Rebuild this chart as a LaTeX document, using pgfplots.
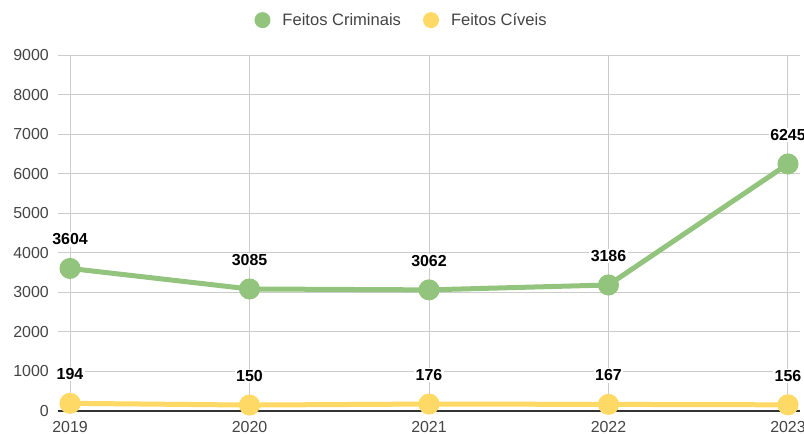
\documentclass[border=0pt]{standalone}
\usepackage{fontspec}
\setmainfont{Liberation Sans}
\usepackage{pgfplots}
\pgfplotsset{compat=1.18}
\definecolor{crim}{HTML}{93C47D}
\definecolor{civ}{HTML}{FFD966}
\definecolor{gridc}{HTML}{CCCCCC}
\definecolor{labc}{HTML}{444444}
\begin{document}
\begin{tikzpicture}
\useasboundingbox (-58bp,-23bp) rectangle (746bp,411bp);
\begin{axis}[
    at={(0,0)}, anchor=south west,
    scale only axis, width=742bp, height=356bp,
    xmin=2018.933, xmax=2023.067,
    ymin=0, ymax=9000,
    xtick={2019,2020,2021,2022,2023},
    xticklabels={2019,2020,2021,2022,2023},
    ytick={0,1000,...,9000},
    yticklabels={0,1000,2000,3000,4000,5000,6000,7000,8000,9000},
    extra y ticks={0}, extra y tick labels={},
    extra y tick style={grid style={black!80, line width=1.2bp}},
    major tick length=0pt,
    grid=major, grid style={gridc, line width=1bp},
    axis line style={draw=none},
    clip=false,
    tick label style={font=\fontsize{16}{19}\selectfont, text=labc},
    yticklabel style={anchor=east, inner sep=0pt, xshift=-9bp},
    xticklabel style={anchor=north, inner sep=0pt, yshift=-10bp},
    /pgf/number format/.cd, 1000 sep={}, assume math mode=true, /pgfplots/.cd,
    nodes near coords,
    nodes near coords style={anchor=center, yshift=29bp, inner sep=1.5bp,
      fill=white, text=black, font=\bfseries\fontsize{16}{19}\selectfont},
    legend columns=2,
    legend style={at={(0.463,1.098)}, anchor=center, draw=none,
      font=\fontsize{16.6}{19}\selectfont, text=labc,
      /tikz/every even column/.append style={column sep=20bp}},
    legend image code/.code={
      \path[draw=none, fill=none] (-8bp,0bp) -- (18bp,0bp);
      \path[#1, draw=none, fill] (0bp,0bp) circle (8bp);},
  ]
  % Feitos Criminais
  \addplot[crim, line width=5bp, mark=*, mark size=8bp]
    coordinates {(2019,3604) (2020,3085) (2021,3062) (2022,3186) (2023,6245)};
  \addlegendentry{Feitos Criminais}
  % Feitos Cíveis
  \addplot[civ, line width=5bp, mark=*, mark size=8bp]
    coordinates {(2019,194) (2020,150) (2021,176) (2022,167) (2023,156)};
  \addlegendentry{Feitos Cíveis}
\end{axis}
\end{tikzpicture}
\end{document}
